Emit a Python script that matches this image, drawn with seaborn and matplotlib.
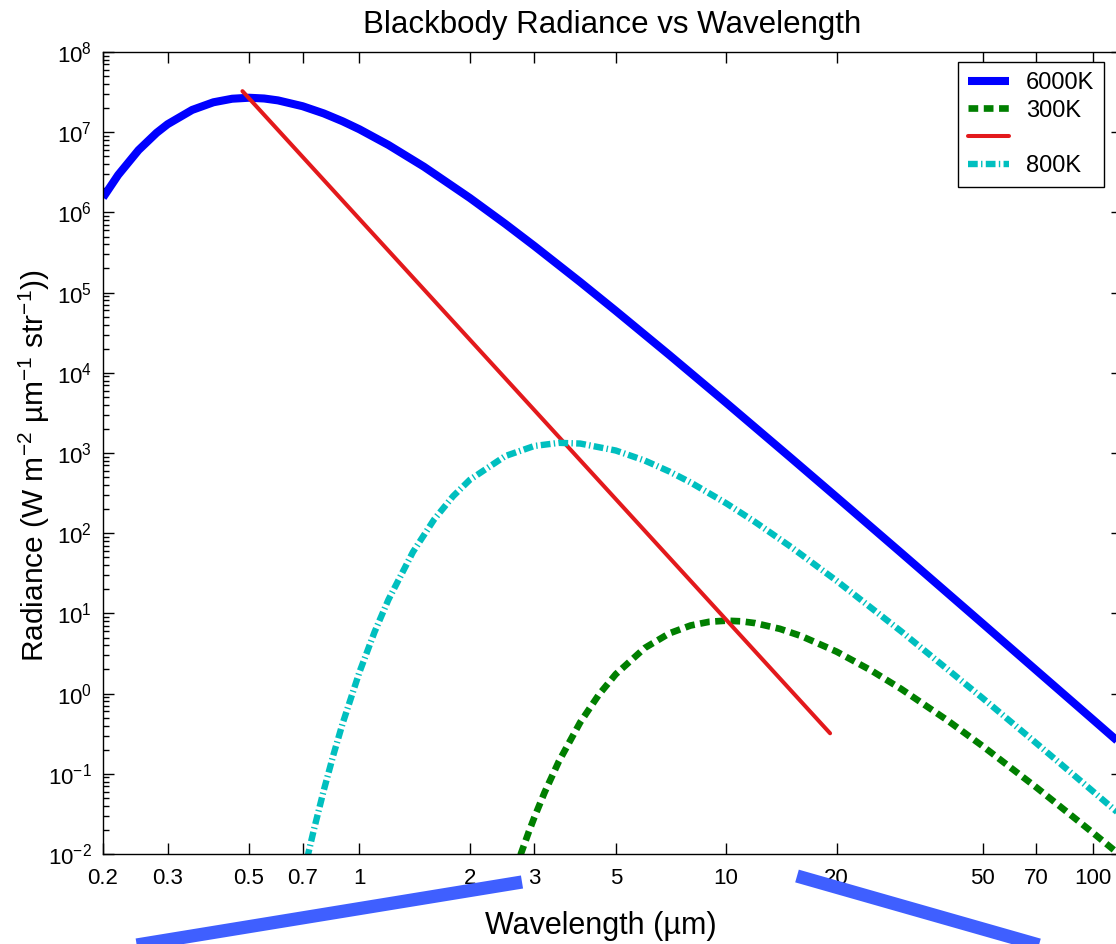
import matplotlib
matplotlib.use("Agg")
import numpy as np
import matplotlib.pyplot as plt
import seaborn as sns
from matplotlib.lines import Line2D
from matplotlib.ticker import FixedLocator, NullLocator, LogLocator, NullFormatter

# values (wavelength in um, radiance)
wl_6000 = [0.2, 0.22, 0.25, 0.28, 0.3, 0.35, 0.4, 0.45, 0.5, 0.55, 0.6, 0.7, 0.8, 0.9,
           1.0, 1.2, 1.5, 2.0, 2.5, 3.0, 4.0, 5.0, 7.0, 10.0, 15.0, 20.0, 30.0, 50.0,
           70.0, 100.0, 120.0]
rad_6000 = [1.53e6, 2.93e6, 5.98e6, 9.82e6, 1.257e7, 1.895e7, 2.361e7, 2.614e7, 2.690e7,
            2.632e7, 2.492e7, 2.109e7, 1.713e7, 1.368e7, 1.088e7, 6.93e6, 3.71e6, 1.515e6,
            7.19e5, 3.81e5, 1.354e5, 5.93e4, 1.666e4, 4230, 872, 282, 56.9, 7.49, 1.96,
            0.474, 0.229]

wl_300 = [2.75, 2.9, 3.0, 3.2, 3.5, 4.0, 4.5, 5.0, 6.0, 7.0, 8.0, 9.0, 10.0, 11.0, 12.0,
          14.0, 16.0, 20.0, 25.0, 30.0, 40.0, 50.0, 70.0, 100.0, 120.0]
rad_300 = [9.76e-3, 1.916e-2, 2.872e-2, 5.889e-2, 0.1434, 0.438, 0.974, 1.745, 3.708,
           5.640, 7.067, 7.865, 8.114, 7.965, 7.565, 6.426, 5.234, 3.336, 1.913, 1.143,
           0.468, 0.2221, 0.0680, 0.01838, 0.00927]

wl_peak = [0.48, 19.2]
rad_peak = [3.25e7, 0.32]

wl_800 = [0.72, 0.75, 0.8, 0.85, 0.9, 1.0, 1.1, 1.2, 1.4, 1.6, 1.8, 2.0, 2.5, 3.0, 3.5,
          4.0, 5.0, 6.0, 7.0, 8.0, 10.0, 12.0, 15.0, 20.0, 30.0, 50.0, 70.0, 100.0, 120.0]
rad_800 = [8.73e-3, 1.933e-2, 6.27e-2, 0.1736, 0.423, 1.841, 5.865, 14.83, 58.4, 149.1,
           288.5, 462.9, 916.7, 1224, 1338, 1312, 1074, 804.6, 587.7, 429.1, 236.3, 137.7,
           67.7, 25.53, 5.97, 0.880, 0.242, 0.0604, 0.0296]

legend_labels = ["6000K", "300K", "", "800K"]
x_ticks = [0.2, 0.3, 0.5, 0.7, 1, 2, 3, 5, 10, 20, 50, 70, 100]
x_tick_labels = ["0.2", "0.3", "0.5", "0.7", "1", "2", "3", "5", "10", "20", "50", "70", "100"]

sns.set_theme(style="ticks")
plt.rcParams['font.family'] = ['Liberation Sans', 'DejaVu Sans']
plt.rcParams['mathtext.default'] = 'regular'
plt.rcParams['lines.scale_dashes'] = False
for key in ['text.color', 'axes.labelcolor', 'xtick.color', 'ytick.color']:
    plt.rcParams[key] = 'black'

W, H = 1116, 944
fig = plt.figure(figsize=(W / 100, H / 100), dpi=100)
ax = fig.add_axes([103 / W, 1 - 854 / H, (1122 - 103) / W, (854 - 52) / H])

sns.lineplot(x=wl_6000, y=rad_6000, color='#0000FF', linewidth=5.8, ax=ax)
sns.lineplot(x=wl_300, y=rad_300, color='#007F00', linewidth=4.8, ax=ax)
sns.lineplot(x=wl_peak, y=rad_peak, color='#E3191C', linewidth=2.9, ax=ax)
sns.lineplot(x=wl_800, y=rad_800, color='#00BFBF', linewidth=4.6, ax=ax)

lines = ax.get_lines()
lines[0].set_solid_capstyle('butt')
lines[1].set_dashes([7, 4])
lines[3].set_dashes([7, 2.4, 1.0, 2.4])

ax.set_xscale('log')
ax.set_yscale('log')
ax.set_xlim(0.2, 120)
ax.set_ylim(1e-2, 1e8)

ax.xaxis.set_major_locator(FixedLocator(x_ticks))
ax.set_xticklabels(x_tick_labels)
ax.xaxis.set_minor_locator(NullLocator())
ax.yaxis.set_major_locator(LogLocator(base=10, subs=(1.0,), numticks=20))
ax.yaxis.set_minor_locator(LogLocator(base=10, subs=np.arange(2, 10), numticks=20))
ax.yaxis.set_minor_formatter(NullFormatter())

ax.tick_params(which='both', direction='in', top=True, right=True, colors='black',
               width=1.0, labelsize=16)
ax.tick_params(which='major', length=8)
ax.tick_params(axis='x', which='major', pad=10)
ax.tick_params(axis='y', which='major', pad=8)
ax.tick_params(which='minor', length=4)
for s in ax.spines.values():
    s.set_color('black')
    s.set_linewidth(1.0)

ax.set_title("Blackbody Radiance vs Wavelength", fontsize=22.5, pad=14)
ax.set_xlabel("Wavelength (\u00b5m)", fontsize=22)
ax.xaxis.set_label_coords(0.489, -0.071)
ax.set_ylabel("Radiance (W m$^{-2}$ \u00b5m$^{-1}$ str$^{-1}$))", fontsize=21.5)
ax.yaxis.set_label_coords(-0.050, 0.484)

leg = ax.legend(handles=lines[:4], labels=legend_labels, loc='upper left',
                bbox_to_anchor=(958 / W, 1 - 62 / H), bbox_transform=fig.transFigure,
                fontsize=17, frameon=True, fancybox=False, framealpha=1,
                edgecolor='black', handlelength=1.75, handletextpad=0.7,
                borderpad=0.42, labelspacing=0.24, borderaxespad=0)
leg.get_frame().set_linewidth(1.0)

# two wide blue strokes under the axis
for (x0, y0), (x1, y1) in [((522, 882), (100, 951)), ((797, 876), (1060, 951))]:
    fig.add_artist(Line2D([x0 / W, x1 / W], [1 - y0 / H, 1 - y1 / H],
                          transform=fig.transFigure, color='#3F5FFF', linewidth=9.5,
                          solid_capstyle='butt'))

fig.savefig('out.png', dpi=100)
